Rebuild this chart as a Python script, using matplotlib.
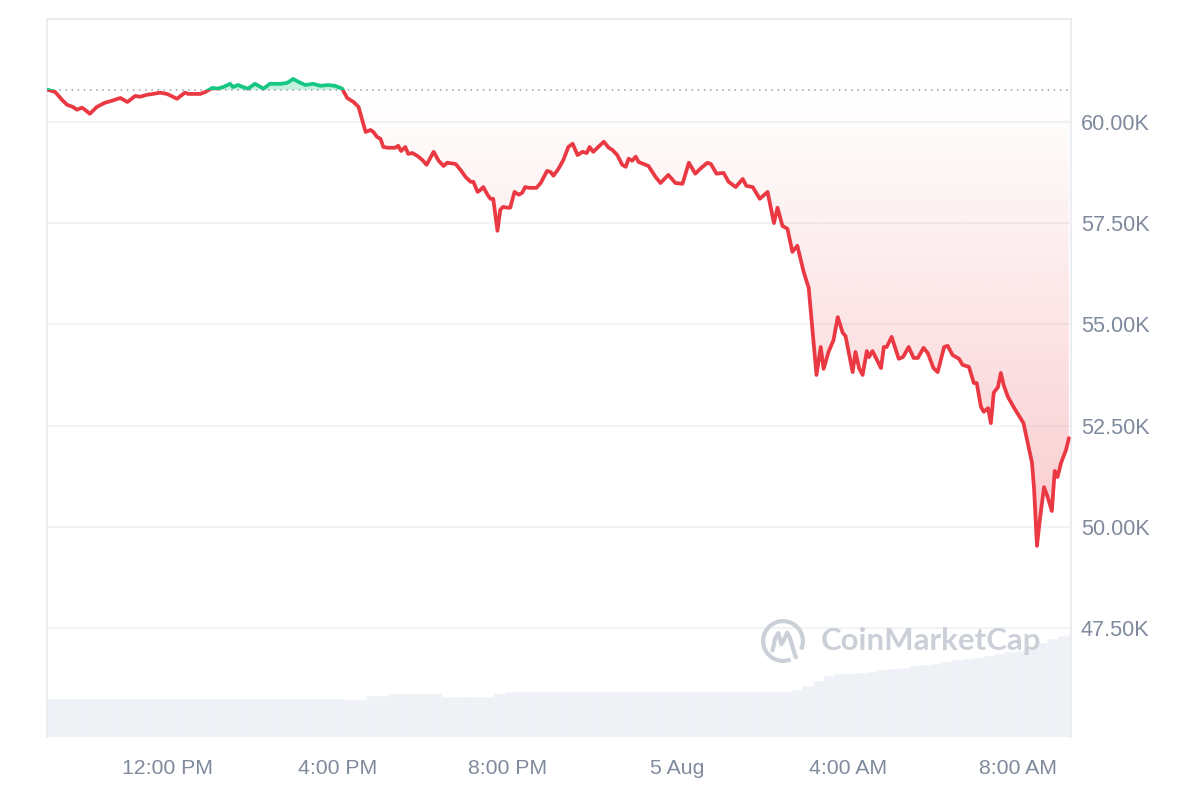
import numpy as np
import matplotlib
matplotlib.use("Agg")
import matplotlib.pyplot as plt
from matplotlib.patches import Rectangle, Arc
from matplotlib.path import Path

# ---------------- data ----------------
# time in minutes since 4 Aug 00:00 (values > 1440 are on 5 Aug)
time_min = [552, 562, 572, 579, 587, 593, 600, 604, 611, 621, 632, 642, 654, 664, 675, 682, 692, 700, 710, 720,
            734, 745, 750, 767, 774, 784, 791, 799, 809, 813, 820, 827, 834, 844, 856, 865, 880, 889, 898, 905,
            915, 926, 936, 947, 957, 967, 974, 983, 990, 1000, 1007, 1011, 1016, 1021, 1025, 1032, 1042, 1046, 1050, 1056,
            1060, 1066, 1073, 1080, 1086, 1096, 1103, 1110, 1115, 1127, 1134, 1141, 1148, 1152, 1158, 1162, 1166, 1172, 1176, 1180,
            1186, 1190, 1194, 1200, 1204, 1210, 1216, 1221, 1225, 1231, 1241, 1247, 1256, 1261, 1265, 1272, 1279, 1286, 1292, 1299,
            1306, 1312, 1316, 1321, 1336, 1343, 1348, 1355, 1362, 1367, 1371, 1376, 1381, 1385, 1399, 1409, 1416, 1427, 1437, 1447,
            1456, 1465, 1472, 1482, 1487, 1495, 1505, 1512, 1522, 1532, 1537, 1546, 1556, 1567, 1576, 1581, 1588, 1595, 1602, 1609,
            1618, 1625, 1636, 1642, 1646, 1653, 1660, 1666, 1673, 1677, 1687, 1691, 1696, 1701, 1707, 1710, 1715, 1727, 1731, 1735,
            1742, 1752, 1758, 1766, 1773, 1779, 1787, 1793, 1801, 1807, 1816, 1821, 1828, 1837, 1842, 1851, 1858, 1862, 1868, 1872,
            1878, 1882, 1886, 1892, 1896, 1900, 1906, 1914, 1921, 1928, 1934, 1940, 1943, 1947, 1951, 1957, 1962, 1968, 1972, 1976,
            1981, 1988, 1992]
# price in thousands of USD
price_k = [60.79, 60.74, 60.54, 60.42, 60.37, 60.30, 60.35, 60.30, 60.20, 60.37, 60.47, 60.52, 60.59, 60.49, 60.64, 60.62, 60.67, 60.69, 60.72, 60.69,
           60.57, 60.72, 60.69, 60.69, 60.74, 60.84, 60.82, 60.86, 60.94, 60.86, 60.91, 60.86, 60.82, 60.94, 60.82, 60.94, 60.94, 60.96, 61.06, 60.99,
           60.91, 60.94, 60.89, 60.91, 60.89, 60.82, 60.59, 60.49, 60.37, 59.75, 59.80, 59.75, 59.63, 59.58, 59.38, 59.36, 59.36, 59.41, 59.28, 59.38,
           59.21, 59.23, 59.16, 59.06, 58.94, 59.26, 59.04, 58.91, 58.99, 58.96, 58.81, 58.64, 58.52, 58.52, 58.27, 58.32, 58.39, 58.20, 58.10, 58.10,
           57.31, 57.83, 57.90, 57.88, 57.88, 58.27, 58.20, 58.25, 58.39, 58.37, 58.37, 58.49, 58.79, 58.76, 58.67, 58.84, 59.06, 59.38, 59.46, 59.18,
           59.26, 59.23, 59.38, 59.26, 59.51, 59.36, 59.31, 59.18, 58.94, 58.89, 59.09, 59.04, 59.14, 59.01, 58.91, 58.64, 58.49, 58.69, 58.49, 58.47,
           58.99, 58.72, 58.84, 58.99, 58.96, 58.72, 58.74, 58.52, 58.39, 58.59, 58.42, 58.39, 58.10, 58.27, 57.50, 57.88, 57.43, 57.36, 56.79, 56.94,
           56.29, 55.90, 53.75, 54.44, 53.90, 54.32, 54.61, 55.18, 54.79, 54.71, 53.82, 54.32, 53.92, 53.75, 54.34, 54.19, 54.34, 53.92, 54.44, 54.44,
           54.69, 54.15, 54.19, 54.44, 54.17, 54.17, 54.42, 54.29, 53.92, 53.82, 54.44, 54.47, 54.24, 54.15, 54.00, 53.95, 53.55, 53.55, 52.96, 52.84,
           52.93, 52.56, 53.31, 53.45, 53.80, 53.50, 53.21, 52.96, 52.76, 52.56, 52.07, 51.58, 50.91, 49.53, 50.17, 50.98, 50.74, 50.39, 51.38, 51.23,
           51.58, 51.90, 52.19]
baseline_k = price_k[0]

# 24h trading volume (billion USD), one bar per 15 minutes starting 09:11
vol_start_min = 551
vol_interval_min = 15
volume_b = [28.5] * 28 + [27.8, 27.8, 30.8, 30.8] + [32.3] * 5 + [30.0] * 5 + [32.3] + [33.8] * 27 + \
           [35.3, 38.0, 42.0, 45.4, 46.9, 47.6, 48.0, 49.1, 50.3, 51.0, 51.8, 52.9, 54.0, 55.1, 56.3, 57.4,
            58.5, 59.6, 60.8, 62.3, 63.4, 64.5, 66.0, 70.5, 73.5, 75.8, 77.3]

x_tick_min = [720, 960, 1200, 1440, 1680, 1920]
x_tick_labels = ["12:00 PM", "4:00 PM", "8:00 PM", "5 Aug", "4:00 AM", "8:00 AM"]
y_ticks_k = [47.5, 50.0, 52.5, 55.0, 57.5, 60.0]
y_tick_labels = ["47.50K", "50.00K", "52.50K", "55.00K", "57.50K", "60.00K"]

# ---------------- style ----------------
RED = "#ea3943"
GREEN = "#16c784"
LABEL = "#808a9d"
GRID = "#eff1f4"
WM = "#cbd0d8"
plt.rcParams["font.family"] = ["Liberation Sans", "DejaVu Sans"]

XMIN, XMAX = 550.6, 1995.0
YMIN, YMAX = 44.81, 62.54

fig = plt.figure(figsize=(12, 8), dpi=100)
fig.patch.set_facecolor("white")
rect = [47 / 1200, 1 - 737 / 800, (1071 - 47) / 1200, (737 - 19) / 800]

# volume axes (below)
axv = fig.add_axes(rect)
vol_times = vol_start_min + vol_interval_min * np.arange(len(volume_b))
axv.bar(vol_times, volume_b, width=vol_interval_min, align="edge", color="#eef1f5",
        edgecolor="#f3f5f8", linewidth=0.4)
axv.set_xlim(XMIN, XMAX)
axv.set_ylim(0, 538.5)
axv.axis("off")

# price axes
ax = fig.add_axes(rect)
ax.set_facecolor("none")

t = np.array(time_min, dtype=float)
p = np.array(price_k)

# red gradient fill below baseline
poly = ax.fill_between(t, p, baseline_k, where=p <= baseline_k, interpolate=True,
                       facecolor="none", edgecolor="none")
clip = Path.make_compound_path(*poly.get_paths())
n = 256
alpha = np.linspace(0.0, 0.26, n).reshape(-1, 1)
rgba = np.zeros((n, 1, 4))
rgba[..., 0] = 234 / 255
rgba[..., 1] = 57 / 255
rgba[..., 2] = 67 / 255
rgba[..., 3] = alpha
im = ax.imshow(rgba, extent=[XMIN, XMAX, p.min(), baseline_k], aspect="auto",
               origin="upper", zorder=1, interpolation="bilinear")
im.set_clip_path(clip, transform=ax.transData)

# green fill above baseline
ax.fill_between(t, p, baseline_k, where=p >= baseline_k, interpolate=True,
                color=GREEN, alpha=0.25, linewidth=0, zorder=1)

# baseline dotted
ax.axhline(baseline_k, color="#a1a7b3", lw=1.3, linestyle=(0, (0.8, 2.6)), zorder=3)

# line split in colours by clipping
up = Rectangle((XMIN, baseline_k), XMAX - XMIN, 20, transform=ax.transData)
dn = Rectangle((XMIN, baseline_k - 20), XMAX - XMIN, 20, transform=ax.transData)
lg, = ax.plot(t, p, color=GREEN, lw=2.7, solid_joinstyle="round", solid_capstyle="round", zorder=4)
lg.set_clip_path(up)
lr, = ax.plot(t, p, color=RED, lw=2.7, solid_joinstyle="round", solid_capstyle="round", zorder=4)
lr.set_clip_path(dn)

ax.set_xlim(XMIN, XMAX)
ax.set_ylim(YMIN, YMAX)

ax.yaxis.tick_right()
ax.set_yticks(y_ticks_k)
ax.set_yticklabels(y_tick_labels)
ax.set_xticks(x_tick_min)
ax.set_xticklabels(x_tick_labels)
ax.tick_params(axis="y", length=0, pad=7, labelsize=15.6, labelcolor=LABEL)
ax.tick_params(axis="x", length=0, pad=16, labelsize=15.3, labelcolor=LABEL)
for lab in ax.get_yticklabels():
    lab.set_horizontalalignment("left")
ax.grid(axis="y", color=GRID, lw=1.2, zorder=0)
ax.set_axisbelow(True)
for side in ["top", "left", "right"]:
    ax.spines[side].set_color("#e8eaed")
    ax.spines[side].set_linewidth(1.2)
ax.spines["bottom"].set_visible(False)

# watermark
fig.text(821 / 1200, 1 - 641 / 800, "CoinMarketCap", fontsize=22.5, color=WM,
         fontweight="bold", family=["Lato", "DejaVu Sans"], va="center", ha="left", zorder=2)
axl = fig.add_axes([760 / 1200, 1 - 664 / 800, 46 / 1200, 46 / 800])
axl.set_xlim(-1.1, 1.1)
axl.set_ylim(-1.1, 1.1)
axl.set_aspect("equal")
axl.axis("off")
axl.add_patch(Arc((0, 0), 1.9, 1.9, theta1=-25, theta2=292, color=WM, lw=3.0))
mx = [-0.5, -0.38, -0.22, -0.08, 0.05, 0.2, 0.33, 0.45, 0.55, 0.62]
my = [-0.45, 0.1, 0.38, -0.15, 0.05, 0.4, 0.15, -0.25, -0.6, -0.78]
axl.plot(mx, my, color=WM, lw=3.0, solid_capstyle="round", solid_joinstyle="round")

fig.savefig("out.png", dpi=100, facecolor="white")
